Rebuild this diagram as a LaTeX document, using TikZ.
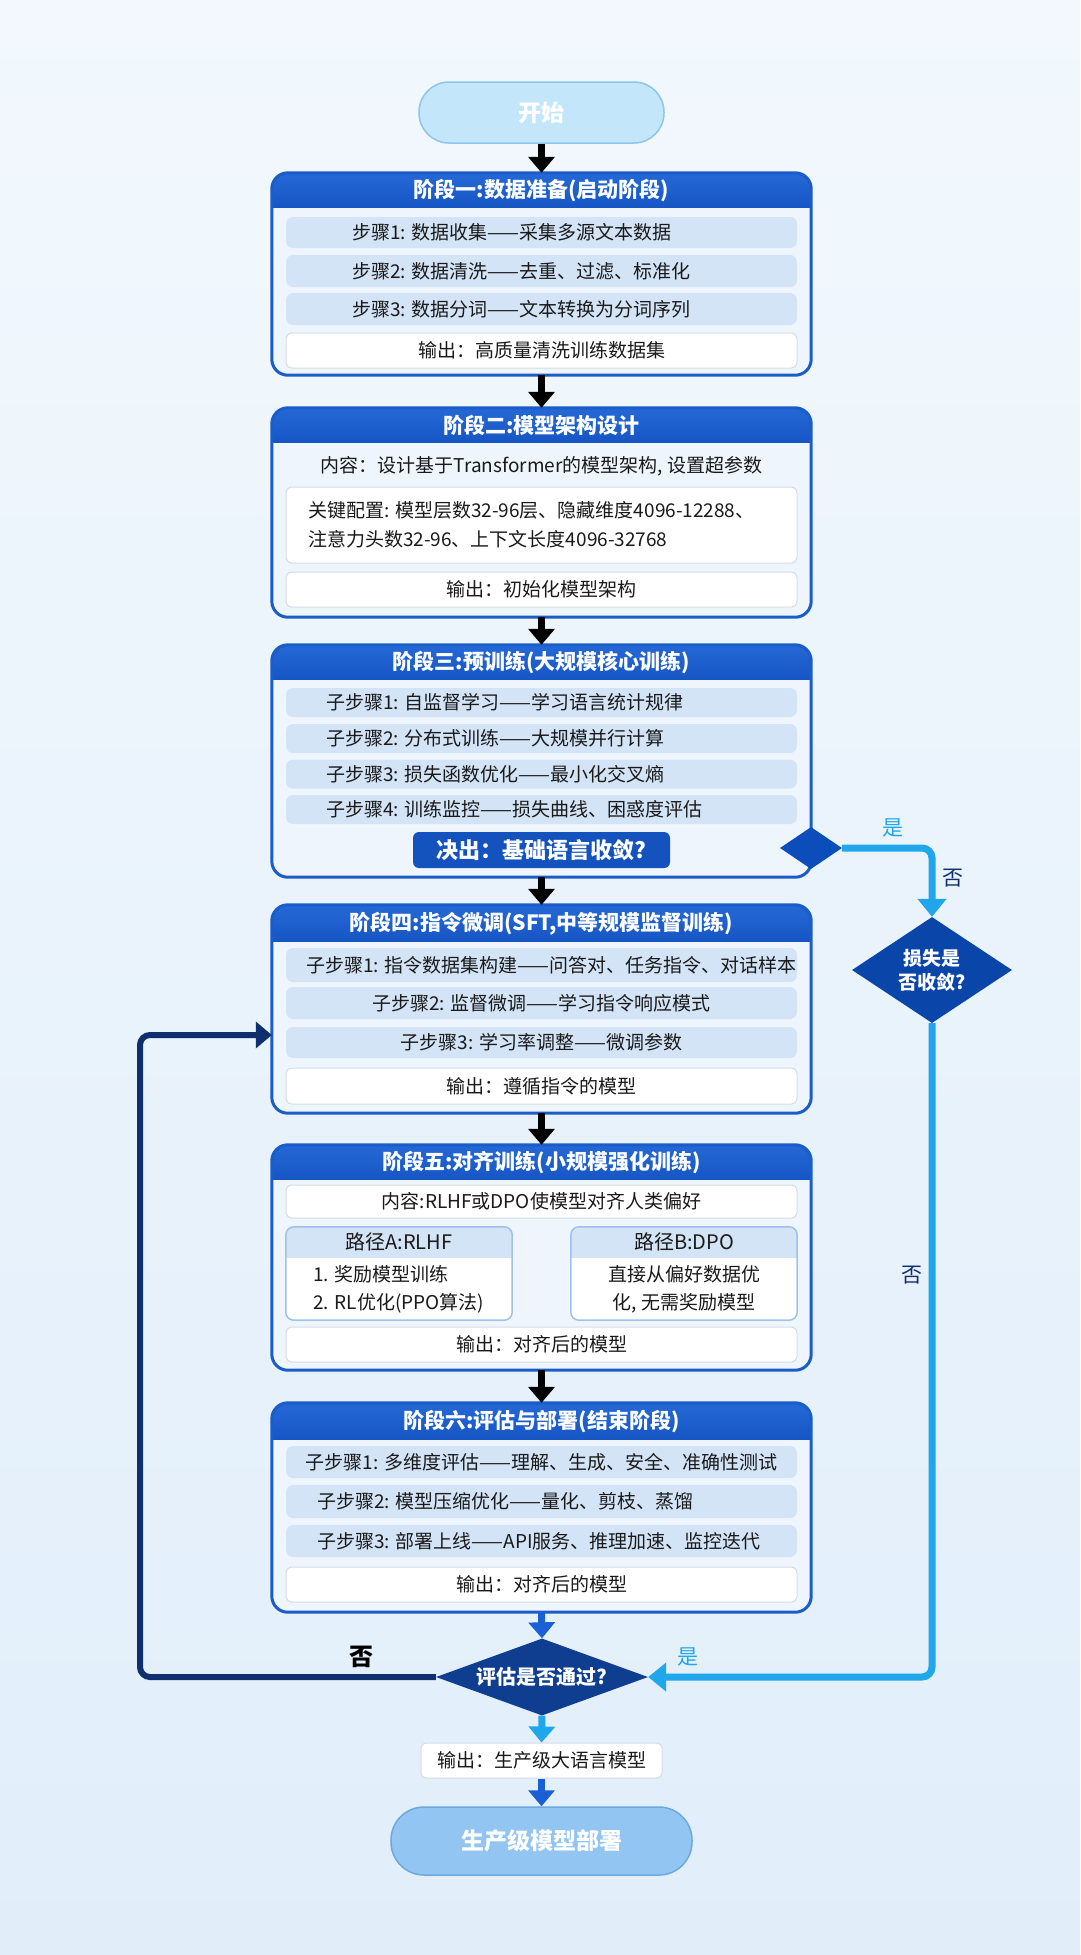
\documentclass[tikz,border=0pt]{standalone}
\usepackage{fontspec}
\setmainfont{Noto Sans CJK SC}
\usetikzlibrary{arrows.meta,shapes.geometric,calc}
\definecolor{bgtop}{HTML}{F2F8FD}
\definecolor{bgbot}{HTML}{E1EEFA}
\definecolor{pborder}{HTML}{1A5CC8}
\definecolor{pfill}{HTML}{EEF5FD}
\definecolor{hdr}{HTML}{1656C4}
\definecolor{hdrtop}{HTML}{2468D6}
\definecolor{rowc}{HTML}{D3E4F7}
\definecolor{outb}{HTML}{D3DCE6}
\definecolor{textc}{HTML}{1A1A1A}
\definecolor{navy}{HTML}{102F6E}
\definecolor{lblue}{HTML}{1FA6EB}
\definecolor{mblue}{HTML}{1A60D4}
\definecolor{dkd}{HTML}{0B4DBA}
\definecolor{dkdb}{HTML}{0A46AA}
\definecolor{evalc}{HTML}{0F3D90}
\definecolor{decc}{HTML}{1452BE}
\definecolor{startf}{HTML}{C4E6FA}
\definecolor{starte}{HTML}{8DC6EC}
\definecolor{endf}{HTML}{93C5F3}
\definecolor{ende}{HTML}{6DA8DF}
\definecolor{pathb}{HTML}{9EC2EA}
\newcommand\stagebox[5]{%
  \node[panel, minimum height=#3pt] (#1) at (541.5,#2) {};
  \begin{scope}
    \clip[rounded corners=16pt] (#1.north west) rectangle (#1.south east);
    \shade[top color=hdrtop, bottom color=hdr] (#1.north west) rectangle ($(#1.north east)+(0,#4)$);
  \end{scope}
  \draw[pborder, line width=3pt, rounded corners=16pt] (#1.north west) rectangle (#1.south east);
  \node[hdrtxt] (#1h) at ($(#1.north)+(0,#4/2)$) {#5};
}
\newcommand\pathbox[3]{%
  \node[pbox] (#1) at (#2,1273.5) {};
  \begin{scope}
    \clip[rounded corners=8pt] (#1.north west) rectangle (#1.south east);
    \fill[rowc] (#1.north west) rectangle ($(#1.north east)+(0,31)$);
  \end{scope}
  \draw[pathb, line width=1.5pt, rounded corners=8pt] (#1.north west) rectangle (#1.south east);
  \node[txt, font=\fontsize{20}{24}\selectfont] (#1h) at ($(#1.north)+(0,15.5)$) {#3};
}
\begin{document}
\begin{tikzpicture}[x=1pt,y=-1pt,
  panel/.style={fill=pfill, rounded corners=16pt, inner sep=0pt, minimum width=539pt},
  hdrtxt/.style={font=\fontsize{21}{25}\selectfont\bfseries, text=white, inner sep=0pt},
  row/.style={fill=rowc, rounded corners=7pt, minimum width=511pt, inner sep=0pt},
  outbox/.style={fill=white, draw=outb, line width=1pt, rounded corners=6pt, minimum width=511pt, inner sep=0pt},
  txt/.style={font=\fontsize{19}{24}\selectfont, text=textc, inner sep=0pt},
  pbox/.style={fill=white, rounded corners=8pt, minimum width=226pt, minimum height=93pt, inner sep=0pt},
  blk/.style={line width=7pt, draw=black, -{Triangle[width=26pt,length=16pt]}},
  bluearr/.style={line width=7pt, draw=mblue, -{Triangle[width=26pt,length=16pt]}},
  lbarr/.style={line width=7pt, draw=lblue, -{Triangle[width=26pt,length=16pt]}},
  lbline/.style={line width=7pt, draw=lblue, rounded corners=10pt, -{Triangle[width=28pt,length=18pt]}},
  navyline/.style={line width=6pt, draw=navy, rounded corners=10pt, -{Triangle[width=26pt,length=16pt]}},
  lbl/.style={font=\fontsize{21}{24}\selectfont, inner sep=0pt},
  wtxt/.style={text=white, inner sep=0pt}
]
\shade[top color=bgtop, bottom color=bgbot] (0,0) rectangle (1080,1955);
\useasboundingbox (0,0) rectangle (1080,1955);

% start
\node[fill=startf, draw=starte, line width=1.5pt, rounded corners=30pt, minimum width=245pt, minimum height=61pt, font=\fontsize{23}{26}\selectfont\bfseries, text=white] (start) at (541.5,112.5) {开始};

% stage 1
\stagebox{s1}{274}{202}{35}{阶段一:数据准备(启动阶段)}
\node[row, minimum height=31pt] (s1r1) at (541.5,232.5) {};
\node[row, minimum height=32pt] (s1r2) at (541.5,271) {};
\node[row, minimum height=32pt] (s1r3) at (541.5,309) {};
\node[outbox, minimum height=35pt] (s1o) at (541.5,350.5) {};
\node[txt, anchor=west] (s1t1) at (352,232.5) {步骤1: 数据收集——采集多源文本数据};
\node[txt, anchor=west] (s1t2) at (352,271) {步骤2: 数据清洗——去重、过滤、标准化};
\node[txt, anchor=west] (s1t3) at (352,309) {步骤3: 数据分词——文本转换为分词序列};
\node[txt] (s1to) at (s1o) {输出：高质量清洗训练数据集};

% stage 2
\stagebox{s2}{512.5}{209}{35}{阶段二:模型架构设计}
\node[txt] (s2c) at (541.5,466) {内容：设计基于Transformer的模型架构, 设置超参数};
\node[outbox, minimum height=76pt] (s2k) at (541.5,525) {};
\node[txt, anchor=west, align=left, font=\fontsize{19}{29}\selectfont] (s2kt) at (308,525) {关键配置: 模型层数32-96层、隐藏维度4096-12288、\\注意力头数32-96、上下文长度4096-32768};
\node[outbox, minimum height=35pt] (s2o) at (541.5,589.5) {};
\node[txt] (s2to) at (s2o) {输出：初始化模型架构};

% stage 3
\stagebox{s3}{761}{232}{35}{阶段三:预训练(大规模核心训练)}
\node[row, minimum height=29pt] (s3r1) at (541.5,702.5) {};
\node[row, minimum height=29pt] (s3r2) at (541.5,738.5) {};
\node[row, minimum height=29pt] (s3r3) at (541.5,774) {};
\node[row, minimum height=29pt] (s3r4) at (541.5,809.5) {};
\node[txt, anchor=west] (s3t1) at (326,702.5) {子步骤1: 自监督学习——学习语言统计规律};
\node[txt, anchor=west] (s3t2) at (326,738.5) {子步骤2: 分布式训练——大规模并行计算};
\node[txt, anchor=west] (s3t3) at (326,774) {子步骤3: 损失函数优化——最小化交叉熵};
\node[txt, anchor=west] (s3t4) at (326,809.5) {子步骤4: 训练监控——损失曲线、困惑度评估};
\node[fill=decc, rounded corners=6pt, minimum width=257pt, minimum height=36pt, inner sep=0pt, font=\fontsize{22}{26}\selectfont\bfseries, text=white] (s3d) at (541.5,850) {决出：基础语言收敛?};
\node[diamond, fill=dkd, minimum width=62pt, minimum height=42pt, inner sep=0pt] (d0) at (811,848) {};

% stage 4
\stagebox{s4}{1009}{208}{37}{阶段四:指令微调(SFT,中等规模监督训练)}
\node[row, minimum height=34pt] (s4r1) at (541.5,965) {};
\node[row, minimum height=32pt] (s4r2) at (541.5,1003) {};
\node[row, minimum height=31pt] (s4r3) at (541.5,1042.5) {};
\node[outbox, minimum height=36pt] (s4o) at (541.5,1086) {};
\node[txt, anchor=west] (s4t1) at (306,965) {子步骤1: 指令数据集构建——问答对、任务指令、对话样本};
\node[txt] (s4t2) at (s4r2) {子步骤2: 监督微调——学习指令响应模式};
\node[txt] (s4t3) at (s4r3) {子步骤3: 学习率调整——微调参数};
\node[txt] (s4to) at (s4o) {输出：遵循指令的模型};

% stage 5
\stagebox{s5}{1257.5}{225}{35}{阶段五:对齐训练(小规模强化训练)}
\node[outbox, minimum height=33pt] (s5c) at (541.5,1201.5) {};
\node[txt] (s5ct) at (s5c) {内容:RLHF或DPO使模型对齐人类偏好};
\pathbox{pa}{399}{路径A:RLHF}
\pathbox{pb}{684}{路径B:DPO}
\node[txt, anchor=west, align=left, font=\fontsize{19}{28}\selectfont] (pat) at (313,1289.5) {1. 奖励模型训练\\2. RL优化(PPO算法)};
\node[txt, align=center, font=\fontsize{19}{28}\selectfont] (pbt) at (684,1289.5) {直接从偏好数据优\\化, 无需奖励模型};
\node[outbox, minimum height=35pt] (s5o) at (541.5,1344.5) {};
\node[txt] (s5to) at (s5o) {输出：对齐后的模型};

% stage 6
\stagebox{s6}{1507.5}{209}{37}{阶段六:评估与部署(结束阶段)}
\node[row, minimum height=32pt] (s6r1) at (541.5,1462) {};
\node[row, minimum height=33pt] (s6r2) at (541.5,1501.5) {};
\node[row, minimum height=32pt] (s6r3) at (541.5,1541) {};
\node[outbox, minimum height=35pt] (s6o) at (541.5,1584.5) {};
\node[txt] (s6t1) at (s6r1) {子步骤1: 多维度评估——理解、生成、安全、准确性测试};
\node[txt, anchor=west] (s6t2) at (317,1501.5) {子步骤2: 模型压缩优化——量化、剪枝、蒸馏};
\node[txt, anchor=west] (s6t3) at (317,1541) {子步骤3: 部署上线——API服务、推理加速、监控迭代};
\node[txt] (s6to) at (s6o) {输出：对齐后的模型};

% right big diamond
\node[diamond, fill=dkdb, minimum width=160pt, minimum height=106pt, aspect=1.5, inner sep=0pt, align=center, font=\fontsize{19}{24}\selectfont\bfseries, text=white] (d1) at (932,970) {损失是\\否收敛?};

% eval diamond
\node[diamond, fill=evalc, minimum width=212pt, minimum height=77pt, aspect=2.75, inner sep=0pt, font=\fontsize{20}{24}\selectfont\bfseries, text=white] (ev) at (542,1677) {评估是否通过?};

% final output and end
\node[fill=white, draw=outb, line width=1pt, rounded corners=5pt, minimum width=241pt, minimum height=35pt, inner sep=0pt, font=\fontsize{19}{24}\selectfont, text=textc] (fo) at (541.5,1760.5) {输出：生产级大语言模型};
\node[fill=endf, draw=ende, line width=1.5pt, rounded corners=33pt, minimum width=301pt, minimum height=68pt, font=\fontsize{23}{26}\selectfont\bfseries, text=white] (endn) at (541.5,1841) {生产级模型部署};

% connectors
\draw[blk] (start.south) -- (s1.north);
\draw[blk] (s1.south) -- (s2.north);
\draw[blk] (s2.south) -- (s3.north);
\draw[blk] (s3.south) -- (s4.north);
\draw[blk] (s4.south) -- (s5.north);
\draw[blk] (s5.south) -- (s6.north);
\draw[bluearr] (s6.south) -- (ev.north);
\draw[lbarr] (ev.south) -- (fo.north);
\draw[bluearr] (fo.south) -- (endn.north);
\draw[lbline] (d0.east) -| (d1.north);
\draw[lbline] (d1.south) |- (ev.east);
\coordinate (loopc) at (140,1035);
\draw[navyline] (ev.west) -| (loopc) -- (s4.west |- loopc);

% labels
\node[lbl, text=lblue] (ly1) at (893,828) {是};
\node[lbl, text=navy] (ln1) at (953,878) {否};
\node[lbl, text=navy] (ln2) at (912,1275) {否};
\node[lbl, text=black, font=\fontsize{24}{26}\selectfont\bfseries] (ln3) at (361,1657) {否};
\node[lbl, text=lblue] (ly2) at (688,1657) {是};
\end{tikzpicture}
\end{document}
